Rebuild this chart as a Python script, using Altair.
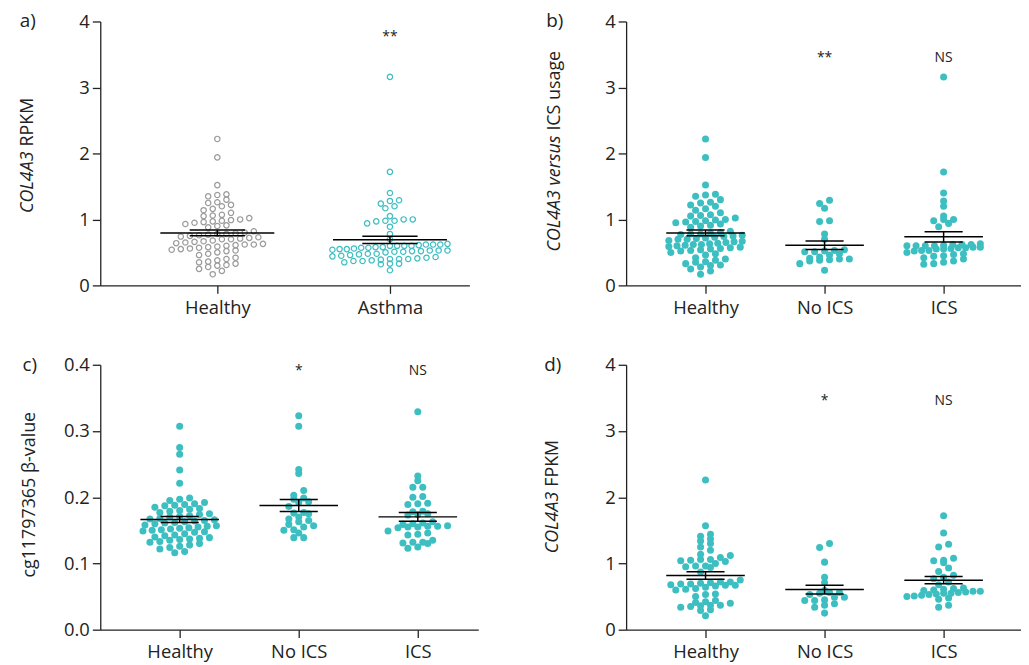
import altair as alt
import numpy as np
import pandas as pd

FONT = "Open Sans"
TEAL = "#3dbfc2"
GREY = "#9b9b9b"
INK = "#222222"

# ---------------- data ----------------
cats_a = ["Healthy", "Asthma"]
cats_bcd = ["Healthy", "No ICS", "ICS"]

healthy_rpkm = [2.22, 1.94, 1.52, 1.37, 1.38, 1.35, 1.30, 1.26, 1.25, 1.22, 1.20, 1.16, 1.14, 1.10,
                1.07, 1.06, 1.05, 1.02, 1.00, 0.99, 0.98, 0.97, 0.96, 0.95, 0.93, 0.91, 0.90, 0.88,
                0.82, 0.80, 0.79, 0.78, 0.78, 0.77, 0.76, 0.75, 0.74, 0.73, 0.72, 0.71, 0.70, 0.70,
                0.68, 0.67, 0.66, 0.65, 0.64, 0.63, 0.62, 0.62, 0.61, 0.60, 0.59, 0.58, 0.57, 0.56,
                0.55, 0.54, 0.53, 0.52, 0.50, 0.48, 0.46, 0.42, 0.40, 0.38, 0.36, 0.35, 0.33, 0.31,
                0.30, 0.28, 0.25, 0.22, 0.17]
noics_rpkm = [1.24, 1.29, 1.17, 0.98, 0.97, 0.78, 0.70, 0.51, 0.46, 0.52, 0.48, 0.43, 0.51, 0.54,
              0.53, 0.39, 0.40, 0.38, 0.33, 0.37, 0.41, 0.40, 0.23]
ics_rpkm = [3.16, 1.72, 1.40, 1.28, 1.20, 1.00, 1.00, 0.98, 1.05, 0.94, 0.89, 0.60, 0.58, 0.62,
            0.55, 0.60, 0.57, 0.53, 0.62, 0.52, 0.47, 0.63, 0.61, 0.57, 0.53, 0.48, 0.45, 0.42,
            0.60, 0.55, 0.58, 0.60, 0.62, 0.35, 0.37, 0.40, 0.32, 0.33, 0.44, 0.50, 0.56]
asthma_rpkm = noics_rpkm + ics_rpkm

healthy_cg = [0.307, 0.275, 0.265, 0.241, 0.221, 0.199, 0.197, 0.195, 0.192, 0.190, 0.189, 0.188,
              0.187, 0.185, 0.183, 0.182, 0.180, 0.179, 0.177, 0.175, 0.174, 0.172, 0.171, 0.170,
              0.168, 0.167, 0.166, 0.165, 0.164, 0.163, 0.162, 0.161, 0.160, 0.158, 0.157, 0.156,
              0.155, 0.154, 0.153, 0.152, 0.151, 0.150, 0.149, 0.148, 0.147, 0.145, 0.143, 0.142,
              0.140, 0.139, 0.138, 0.137, 0.136, 0.135, 0.133, 0.132, 0.130, 0.128, 0.126, 0.124,
              0.122, 0.118, 0.116]
noics_cg = [0.323, 0.307, 0.236, 0.242, 0.210, 0.203, 0.199, 0.197, 0.192, 0.193, 0.186, 0.176,
            0.175, 0.177, 0.170, 0.167, 0.165, 0.163, 0.157, 0.159, 0.155, 0.151, 0.150, 0.146,
            0.139, 0.139]
ics_cg = [0.329, 0.232, 0.225, 0.215, 0.215, 0.201, 0.200, 0.190, 0.189, 0.191, 0.178, 0.179,
          0.175, 0.174, 0.173, 0.163, 0.161, 0.160, 0.159, 0.157, 0.156, 0.155, 0.156, 0.154,
          0.155, 0.149, 0.144, 0.143, 0.146, 0.135, 0.132, 0.131, 0.130, 0.132, 0.125, 0.123]

healthy_fpkm = [2.26, 1.57, 1.44, 1.41, 1.37, 1.34, 1.30, 1.25, 1.20, 1.14, 1.12, 1.09, 1.06, 1.06,
                1.05, 1.04, 1.03, 1.00, 0.96, 0.96, 0.95, 0.94, 0.87, 0.75, 0.72, 0.72, 0.71, 0.70,
                0.69, 0.69, 0.68, 0.67, 0.67, 0.66, 0.64, 0.62, 0.61, 0.60, 0.54, 0.53, 0.50, 0.44,
                0.42, 0.41, 0.40, 0.37, 0.37, 0.36, 0.35, 0.34, 0.30, 0.29, 0.21]
noics_fpkm = [1.30, 1.24, 1.02, 0.79, 0.71, 0.59, 0.55, 0.53, 0.49, 0.49, 0.56, 0.56, 0.45, 0.39,
              0.37, 0.34, 0.44, 0.44, 0.25]
ics_fpkm = [1.72, 1.46, 1.29, 1.25, 1.08, 1.05, 1.04, 1.01, 0.93, 0.88, 0.82, 0.79, 0.77, 0.72,
            0.68, 0.63, 0.62, 0.61, 0.60, 0.59, 0.58, 0.58, 0.57, 0.56, 0.55, 0.55, 0.54, 0.53,
            0.52, 0.51, 0.50, 0.48, 0.46, 0.37, 0.34]

sig_a = ["", "**"]
sig_b = ["", "**", "NS"]
sig_c = ["", "*", "NS"]
sig_d = ["", "*", "NS"]


# ---------------- helpers ----------------
def row_offsets(values, ppy, row_h, spacing, max_half):
    """Prism-style scatter layout: points binned into rows, spread side by side."""
    vals = np.asarray(values, dtype=float)
    bins = np.round(vals * ppy / row_h).astype(int)
    out = np.zeros(len(vals))
    for b in np.unique(bins):
        idx = np.where(bins == b)[0]
        idx = idx[np.argsort(vals[idx], kind="stable")]
        n = len(idx)
        if n == 1:
            continue
        s = min(spacing, 2 * max_half / (n - 1))
        for k, i in enumerate(idx):
            out[i] = (k - (n - 1) / 2) * s
    return out


def panel(cats, series, colors, filled, ymax, yticks, yfmt, xdom, width, height,
          row_h, spacing, max_half, sig, sig_y, letter, title_lower, title_upper,
          title_join, title_x):
    ppx = width / (xdom[1] - xdom[0])
    ppy = height / ymax
    rows = []
    for gi, (cat, vals, col) in enumerate(zip(cats, series, colors)):
        offs = row_offsets(vals, ppy, row_h, spacing, max_half)
        for v, o in zip(vals, offs):
            rows.append({"g": gi, "cat": cat, "col": col, "value": v, "xpos": gi + o / ppx})
    df = pd.DataFrame(rows)

    xs = alt.Scale(domain=xdom, nice=False, zero=False)
    ys = alt.Scale(domain=[0, ymax], nice=False, zero=True)
    label_expr = "[" + ",".join("'%s'" % c for c in cats) + "][datum.value]"
    xaxis = alt.Axis(values=list(range(len(cats))), labelExpr=label_expr, title=None,
                     grid=False, tickSize=8, labelPadding=5, labelFontSize=18.5)
    yaxis = alt.Axis(values=yticks, format=yfmt, title=None, grid=False, tickSize=8,
                     labelPadding=3, labelFontSize=18.5)

    def X(f):
        return alt.X(f, scale=xs, axis=xaxis, title=None)

    def Y(f):
        return alt.Y(f, scale=ys, axis=yaxis, title=None)

    base = alt.Chart(df)
    if filled:
        pm = base.mark_circle(size=50, opacity=1)
    else:
        pm = base.mark_point(filled=False, size=29, strokeWidth=1.25, opacity=1)
    pts = pm.encode(x=X("xpos:Q"), y=Y("value:Q"), color=alt.Color("col:N", scale=None))

    agg = base.transform_aggregate(
        m="mean(value)", se="stderr(value)", groupby=["g"]
    ).transform_calculate(
        x1="datum.g - 0.33", x2="datum.g + 0.33",
        c1="datum.g - 0.16", c2="datum.g + 0.16",
        lo="datum.m - datum.se", hi="datum.m + datum.se",
    )
    rule_kw = dict(color="black", strokeWidth=1.5)
    mean_rule = agg.mark_rule(**rule_kw).encode(x=X("x1:Q"), x2="x2:Q", y=Y("m:Q"))
    cap_lo = agg.mark_rule(**rule_kw).encode(x=X("c1:Q"), x2="c2:Q", y=Y("lo:Q"))
    cap_hi = agg.mark_rule(**rule_kw).encode(x=X("c1:Q"), x2="c2:Q", y=Y("hi:Q"))
    vbar = agg.mark_rule(**rule_kw).encode(x=X("g:Q"), y=Y("lo:Q"), y2="hi:Q")

    sdf = pd.DataFrame({"g": list(range(len(cats))), "t": sig, "y": [sig_y] * len(cats)})
    sdf = sdf[sdf["t"] != ""]
    sig_layer = alt.Chart(sdf).mark_text(font=FONT, fontSize=14, color=INK,
                                         baseline="middle", align="center").encode(
        x=X("g:Q"), y=Y("y:Q"), text="t:N")

    layers = [pts, mean_rule, cap_lo, cap_hi, vbar, sig_layer]

    lab = alt.Chart(pd.DataFrame({"t": [letter]})).mark_text(
        font=FONT, fontSize=19, color=INK, align="center", baseline="middle").encode(
        text="t:N", x=alt.value(title_x), y=alt.value(0))
    layers.append(lab)

    # y-axis title, gene names in italics
    if title_lower is not None:
        tl_text, tl_style = title_lower
        low = alt.Chart(pd.DataFrame({"t": [tl_text]})).mark_text(
            font=FONT, fontSize=18, color=INK, angle=270, align="right", baseline="middle",
            fontStyle=tl_style, dx=-2).encode(
            text="t:N", x=alt.value(title_x), y=alt.value(title_join))
        layers.append(low)
        tu_text, tu_style = title_upper
        up = alt.Chart(pd.DataFrame({"t": [tu_text]})).mark_text(
            font=FONT, fontSize=18, color=INK, angle=270, align="left", baseline="middle",
            fontStyle=tu_style, dx=3).encode(
            text="t:N", x=alt.value(title_x), y=alt.value(title_join))
        layers.append(up)
    else:
        tu_text, tu_style = title_upper
        up = alt.Chart(pd.DataFrame({"t": [tu_text]})).mark_text(
            font=FONT, fontSize=18, color=INK, angle=270, align="center", baseline="middle",
            fontStyle=tu_style).encode(
            text="t:N", x=alt.value(title_x), y=alt.value(title_join))
        layers.append(up)

    return alt.layer(*layers).properties(width=width, height=height)


pa = panel(cats_a, [healthy_rpkm, asthma_rpkm], [GREY, TEAL], False, 4, [0, 1, 2, 3, 4], "d",
           [-0.678, 1.46], 372, 266, 6.5, 9.2, 58, sig_a, 3.77, "a)",
           ("COL4A3", "italic"), ("RPKM", "normal"), 129, -73)
pb = panel(cats_bcd, [healthy_rpkm, noics_rpkm, ics_rpkm], [TEAL, TEAL, TEAL], True, 4,
           [0, 1, 2, 3, 4], "d", [-0.667, 2.65], 398, 266, 6.0, 10, 37, sig_b, 3.44, "b)",
           ("COL4A3 versus", "italic"), ("ICS usage", "normal"), 113, -72)
pc = panel(cats_bcd, [healthy_cg, noics_cg, ics_cg], [TEAL, TEAL, TEAL], True, 0.4,
           [0, 0.1, 0.2, 0.3, 0.4], ".1f", [-0.667, 2.508], 381, 267, 6.0, 10, 37, sig_c, 0.39,
           "c)", None, ("cg11797365 β-value", "normal"), 131, -71)
pd_ = panel(cats_bcd, [healthy_fpkm, noics_fpkm, ics_fpkm], [TEAL, TEAL, TEAL], True, 4,
            [0, 1, 2, 3, 4], "d", [-0.667, 2.65], 398, 267, 6.0, 10, 37, sig_d, 3.45, "d)",
            ("COL4A3", "italic"), ("FPKM", "normal"), 126, -74)

chart = alt.concat(pa, pb, pc, pd_, columns=2, spacing={"row": 39, "column": 66}).properties(
    padding={"left": 11, "top": 2, "right": 0, "bottom": 0}
).configure_view(stroke=None).configure_axis(
    labelFont=FONT, labelColor=INK, domainColor=INK, tickColor=INK,
    domainWidth=1.3, tickWidth=1.3
)

chart.save("out.html", embed_options={"renderer": "svg", "actions": False})
